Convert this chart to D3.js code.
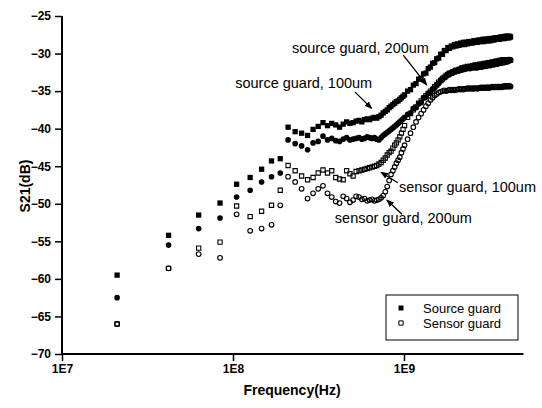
<!DOCTYPE html>
<html><head><meta charset="utf-8">
<script src="https://cdn.jsdelivr.net/npm/d3@7"></script>
<style>body{margin:0;background:#fff}svg{display:block}</style>
</head><body><svg id="c" width="542" height="408"></svg>
<script>
// Frequency sweep points (MHz)
const freqMHz = [21,42,63,84,105,126,147,168,189,210,231,252,273,294,315,336,357,378,399,420,441,462,483,504,525,546,567,588,609,630,651,672,693,714,735,756,777,798,819,840,861,882,903,924,945,966,987,1008,
1050,1092,1134,1176,1218,1260,1302,1344,1386,1428,1470,1512,1554,1596,1638,1680,1722,1764,1806,1848,
1890,1932,1974,2016,2058,2100,2142,2184,2226,2268,2310,2352,2394,2436,2478,2520,2562,2604,2646,2688,
2730,2772,2814,2856,2898,2940,2982,3024,3066,3108,3150,3192,3234,3276,3318,3360,3402,3444,3486,3528,
3570,3612,3654,3696,3738,3780,3822,3864,3906,3948,3990,4032,4074,4116,4158,4200];

// Source guard (filled), upper series (squares)
const sourceSquares = [-59.5,-54.2,-51.5,-49.9,-47.4,-46.5,-45.4,-44.3,-44.0,-39.8,-40.4,-40.6,-40.9,-40.1,-39.7,-39.2,-39.6,-39.3,-39.5,-39.8,-39.4,-39.1,-39.3,-39.2,-39.0,-38.9,-39.1,-38.8,-38.7,-38.8,-38.6,-38.5,-38.6,-38.4,-38.2,-37.9,-37.7,-37.5,-37.2,-37.0,-36.8,-36.6,-36.4,-36.3,-36.1,-35.9,-35.7,-35.5,
-35.0,-34.8,-34.2,-34.0,-33.4,-33.3,-32.7,-32.6,-32.0,-31.8,-31.3,-31.2,-30.7,-30.6,-30.1,-30.1,-29.6,-29.6,-29.2,-29.3,
-29.0,-29.1,-28.8,-29.0,-28.7,-28.9,-28.6,-28.8,-28.5,-28.8,-28.5,-28.7,-28.4,-28.6,-28.4,-28.6,-28.3,-28.5,-28.3,-28.5,
-28.2,-28.4,-28.2,-28.4,-28.1,-28.4,-28.1,-28.3,-28.1,-28.3,-28.0,-28.3,-28.0,-28.2,-28.0,-28.2,-27.9,-28.1,-27.9,-28.1,
-27.9,-28.1,-27.8,-28.0,-27.8,-28.0,-27.8,-28.0,-27.7,-27.9,-27.7,-27.9,-27.7,-27.9,-27.7,-27.8];

// Source guard (filled), lower series (circles)
const sourceCircles = [-62.5,-55.5,-53.3,-51.9,-49.1,-48.2,-47.1,-46.4,-45.9,-41.5,-42.0,-42.3,-42.8,-41.9,-41.7,-41.0,-41.5,-41.3,-41.6,-41.7,-41.4,-41.2,-41.5,-41.4,-41.3,-41.2,-41.4,-41.3,-41.1,-41.2,-41.3,-41.2,-41.4,-41.5,-41.2,-40.9,-40.7,-40.5,-40.3,-40.1,-39.9,-39.7,-39.5,-39.3,-39.1,-38.9,-38.7,-38.5,
-38.1,-37.9,-37.3,-37.2,-36.7,-36.5,-35.9,-35.8,-35.3,-35.2,-34.7,-34.6,-34.1,-34.0,-33.5,-33.5,-33.1,-33.1,-32.7,-32.8,
-32.5,-32.6,-32.3,-32.4,-32.2,-32.3,-32.0,-32.2,-31.9,-32.1,-31.8,-32.0,-31.8,-32.0,-31.7,-31.9,-31.7,-31.9,-31.6,-31.9,
-31.6,-31.8,-31.5,-31.8,-31.5,-31.7,-31.4,-31.7,-31.4,-31.6,-31.3,-31.6,-31.3,-31.5,-31.2,-31.5,-31.2,-31.4,-31.1,-31.4,
-31.1,-31.3,-31.0,-31.3,-31.0,-31.2,-30.9,-31.2,-30.9,-31.1,-30.9,-31.1,-30.8,-31.0,-30.8,-30.9];

// Sensor guard (open), 100um (squares)
const sensorSquares = [-66.0,-58.6,-55.9,-55.1,-50.3,-51.7,-51.0,-50.2,-48.2,-44.9,-45.6,-46.3,-46.8,-46.5,-45.9,-45.5,-45.9,-45.6,-46.5,-46.7,-46.8,-45.6,-46.0,-46.3,-45.7,-45.6,-45.5,-45.4,-45.3,-45.2,-45.1,-45.0,-44.9,-44.7,-44.5,-44.2,-43.9,-43.5,-43.2,-43.0,-42.6,-42.2,-41.9,-41.5,-41.1,-40.6,-40.1,-39.6,
-38.5,-38.0,-37.5,-37.1,-36.6,-36.3,-35.9,-35.6,-35.3,-35.0,-34.8,-34.4,-34.2,-33.8,-33.6,-33.3,-33.2,-32.9,-32.8,-32.6,
-32.6,-32.4,-32.4,-32.2,-32.3,-32.1,-32.1,-31.9,-32.0,-31.8,-31.9,-31.7,-31.9,-31.7,-31.8,-31.6,-31.8,-31.5,-31.7,-31.5,
-31.7,-31.4,-31.6,-31.4,-31.6,-31.3,-31.5,-31.3,-31.5,-31.2,-31.4,-31.2,-31.4,-31.1,-31.3,-31.1,-31.3,-31.0,-31.2,-31.0,
-31.2,-30.9,-31.1,-30.9,-31.1,-30.8,-31.0,-30.8,-31.0,-30.8,-30.9,-30.8,-30.9,-30.8,-30.9,-30.9];

// Sensor guard (open), 200um (circles)
const sensorCircles = [-66.0,-58.6,-56.7,-57.2,-51.4,-53.6,-53.3,-52.8,-50.2,-46.4,-47.1,-48.0,-49.3,-48.6,-48.0,-47.6,-48.6,-49.1,-49.7,-49.9,-49.0,-49.3,-49.8,-49.5,-49.0,-49.1,-49.4,-49.3,-49.6,-49.5,-49.4,-49.6,-49.5,-49.4,-49.2,-48.9,-48.4,-47.7,-46.9,-46.1,-45.6,-45.1,-44.6,-44.2,-43.8,-43.2,-42.7,-42.2,
-41.4,-40.6,-39.8,-39.1,-38.5,-38.0,-37.5,-37.0,-36.6,-36.2,-35.9,-35.6,-35.4,-35.2,-35.1,-35.0,-34.9,-35.0,-34.9,-34.8,
-34.9,-34.8,-34.9,-34.8,-34.8,-34.7,-34.8,-34.7,-34.8,-34.7,-34.7,-34.6,-34.7,-34.6,-34.7,-34.6,-34.7,-34.6,-34.6,-34.7,
-34.6,-34.6,-34.5,-34.6,-34.5,-34.6,-34.5,-34.6,-34.5,-34.5,-34.6,-34.5,-34.5,-34.4,-34.5,-34.5,-34.4,-34.5,-34.4,-34.5,
-34.4,-34.5,-34.4,-34.4,-34.5,-34.4,-34.4,-34.3,-34.4,-34.4,-34.3,-34.4,-34.3,-34.4,-34.3,-34.4];

const xTickValues = [1e7, 1e8, 1e9];
const xTickLabels = ["1E7", "1E8", "1E9"];
const yTickValues = [-70,-65,-60,-55,-50,-45,-40,-35,-30,-25];
const legendLabels = ["Source guard", "Sensor guard"];
const annotations = [
  {text: "source guard, 200um", f: 2.21e8, v: -29.9, from: [9.9e8, -30.2], to: [1.36e9, -34.2]},
  {text: "source guard, 100um", f: 1.03e8, v: -34.6, from: [5.16e8, -35.1], to: [6.47e8, -37.3]},
  {text: "sensor guard, 100um", f: 9.35e8, v: -48.4, from: [9.2e8, -47.2], to: [7.33e8, -45.8]},
  {text: "sensor guard, 200um", f: 3.94e8, v: -52.6, from: [9.73e8, -51.4], to: [7.94e8, -49.5]}
];

const FONT = "'Liberation Sans', Arial, Helvetica, sans-serif";
const svg = d3.select("#c");
const x = d3.scaleLog().domain([1e7, 5e9]).range([62, 523.5]);
const y = d3.scaleLinear().domain([-70, -25]).range([354, 16]);

const defs = svg.append("defs");
defs.append("marker").attr("id","ah").attr("viewBox","0 0 10 10").attr("refX",9).attr("refY",5)
  .attr("markerWidth",6).attr("markerHeight",6).attr("orient","auto")
  .append("path").attr("d","M0,1 L10,5 L0,9 z").attr("fill","#000");

// minor ticks
const xMinor = [];
[1e7,1e8].forEach(b => { for (let k=2;k<=9;k++) xMinor.push(b*k); });
for (let k=2;k<=5;k++) xMinor.push(1e9*k);
const yMinor = d3.range(-67.5, -25, 5);

const gx = svg.append("g").attr("transform","translate(0,354)");
gx.call(d3.axisBottom(x).tickValues(xMinor).tickSize(4).tickFormat(""));
gx.call(d3.axisBottom(x).tickValues(xTickValues).tickSize(7).tickPadding(3).tickFormat((d,i)=>xTickLabels[i]));
const gy = svg.append("g").attr("transform","translate(62,0)");
gy.call(d3.axisLeft(y).tickValues(yMinor).tickSize(4).tickFormat(""));
gy.call(d3.axisLeft(y).tickValues(yTickValues).tickSize(7).tickPadding(4).tickFormat(d3.format("d")));
svg.selectAll(".domain").attr("stroke-width",2);
svg.selectAll(".tick line").attr("stroke-width",1.5);
svg.selectAll(".tick text").attr("font-family",FONT).attr("font-size",12).attr("font-weight","bold").attr("fill","#000");
gx.selectAll(".domain").attr("d", `M62,0H523.5`);
gy.selectAll(".domain").attr("d", `M0,354V16`);

// titles
svg.append("text").attr("x", 292).attr("y", 395).attr("text-anchor","middle")
  .attr("font-family",FONT).attr("font-weight","bold").attr("font-size",14).text("Frequency(Hz)");
svg.append("text").attr("transform","translate(30,186) rotate(-90)").attr("text-anchor","middle")
  .attr("font-family",FONT).attr("font-weight","bold").attr("font-size",14).text("S21(dB)");

// data
const mk = arr => arr.map((v,i)=>({f: freqMHz[i]*1e6, v}));
const sq = d3.symbol().type(d3.symbolSquare);
const ci = d3.symbol().type(d3.symbolCircle);
function drawSeries(arr, shape, size, filled) {
  svg.append("g").selectAll("path").data(mk(arr)).join("path")
    .attr("transform", d=>`translate(${x(d.f)},${y(d.v)})`)
    .attr("d", shape.size(size)())
    .attr("fill", filled ? "#000" : "none")
    .attr("stroke", "#000").attr("stroke-width", filled ? 0 : 1.1);
}
drawSeries(sourceSquares, sq, 28, true);
drawSeries(sourceCircles, ci, 25, true);
drawSeries(sensorSquares, sq, 18, false);
drawSeries(sensorCircles, ci, 17, false);

// annotations
annotations.forEach(a => {
  svg.append("text").attr("x", x(a.f)).attr("y", y(a.v)).attr("font-family",FONT).attr("font-size",14.5).text(a.text);
  svg.append("line").attr("x1", x(a.from[0])).attr("y1", y(a.from[1])).attr("x2", x(a.to[0])).attr("y2", y(a.to[1]))
    .attr("stroke","#000").attr("stroke-width",1.3).attr("marker-end","url(#ah)");
});

// legend
const lg = svg.append("g");
lg.append("rect").attr("x",386).attr("y",295).attr("width",132).attr("height",45).attr("fill","#fff").attr("stroke","#000").attr("stroke-width",1);
legendLabels.forEach((t,i) => {
  const yy = 308 + i*15;
  lg.append("path").attr("transform",`translate(401,${yy})`).attr("d", sq.size(i===0?25:18)())
    .attr("fill", i===0 ? "#000" : "#fff").attr("stroke","#000").attr("stroke-width", i===0?0:1);
  lg.append("text").attr("x",423).attr("y",yy+4.5).attr("font-family",FONT).attr("font-size",13).text(t);
});
</script></body></html>
